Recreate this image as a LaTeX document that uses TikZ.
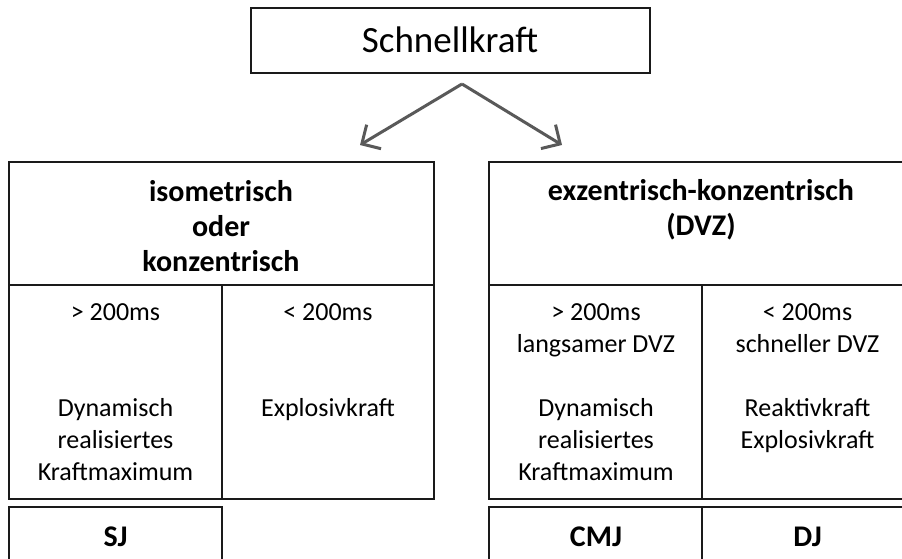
\documentclass[tikz,border=0pt]{standalone}
\usepackage{fontspec}
\setmainfont{Carlito}
\usetikzlibrary{arrows.meta}
\definecolor{edge}{HTML}{1A1A1A}
\definecolor{arrowgray}{HTML}{595959}
\tikzset{
  cell/.style={draw=edge, line width=1.8pt, rectangle, inner sep=0pt},
  big/.style={font=\fontsize{37}{44}\selectfont, inner sep=0pt},
  head/.style={font=\bfseries\fontsize{30}{35}\selectfont, align=center, inner sep=0pt},
  % plain text blocks hang from a strut so their first baselines line up
  plain/.style={font=\fontsize{26}{32}\selectfont, align=center, inner sep=0pt, anchor=north},
  label/.style={font=\bfseries\fontsize{30}{35}\selectfont, inner sep=0pt},
  branch/.style={draw=arrowgray, line width=3pt, -{Straight Barb[length=14pt,width=28pt,line width=3pt]}}
}
\begin{document}
\begin{tikzpicture}[x=1pt,y=-1pt]
\useasboundingbox (0,0) rectangle (902,559);
\clip (0,0) rectangle (902,559);
\fill[white] (0,0) rectangle (902,559);

% top box
\node[cell, minimum width=399pt, minimum height=65pt] (top) at (450.5,40.5) {};
\node[big] (toptext) at (450,40) {Schnellkraft};

% branching arrows
\coordinate (apex) at (462,84);
\coordinate (lefttip) at (360,145);
\coordinate (righttip) at (562,145);
\draw[branch] (apex) -- (lefttip);
\draw[branch] (apex) -- (righttip);

% left block
\node[cell, minimum width=425pt, minimum height=123pt] (lhead) at (221.5,223.5) {};
\node[cell, minimum width=213pt, minimum height=214pt] (lslow) at (115.5,392) {};
\node[cell, minimum width=212pt, minimum height=214pt] (lfast) at (328,392) {};
\node[cell, minimum width=213pt, minimum height=92pt] (sj) at (115.5,553) {};

\node[head] (lheadtext) at (221,226) {isometrisch\\oder\\konzentrisch};
\node[plain] (lslowtime) at (115.5,297.6) {\strut> 200ms};
\node[plain] (lslowtext) at (115.5,393.6) {\strut Dynamisch\\realisiertes\\Kraftmaximum};
\node[plain] (lfasttime) at (328,297.6) {\strut< 200ms};
\node[plain] (lfasttext) at (328,393.6) {\strut Explosivkraft};
\node[label] (sjtext) at (115.5,537) {SJ};

% right block
\node[cell, minimum width=426pt, minimum height=123pt] (rhead) at (702,223.5) {};
\node[cell, minimum width=213pt, minimum height=214pt] (rslow) at (595.5,392) {};
\node[cell, minimum width=213pt, minimum height=214pt] (rfast) at (808.5,392) {};
\node[cell, minimum width=213pt, minimum height=92pt] (cmj) at (595.5,553) {};
\node[cell, minimum width=213pt, minimum height=92pt] (dj) at (808.5,553) {};

\node[head] (rheadtext) at (701,209.5) {exzentrisch-konzentrisch\\(DVZ)};
\node[plain] (rslowtime) at (596,297.6) {\strut> 200ms\\langsamer DVZ};
\node[plain] (rslowtext) at (596,393.6) {\strut Dynamisch\\realisiertes\\Kraftmaximum};
\node[plain] (rfasttime) at (807.5,297.6) {\strut< 200ms\\schneller DVZ};
\node[plain] (rfasttext) at (807.5,393.6) {\strut Reaktivkraft\\Explosivkraft};
\node[label] (cmjtext) at (596,537) {CMJ};
\node[label] (djtext) at (807.5,537) {DJ};
\end{tikzpicture}
\end{document}
